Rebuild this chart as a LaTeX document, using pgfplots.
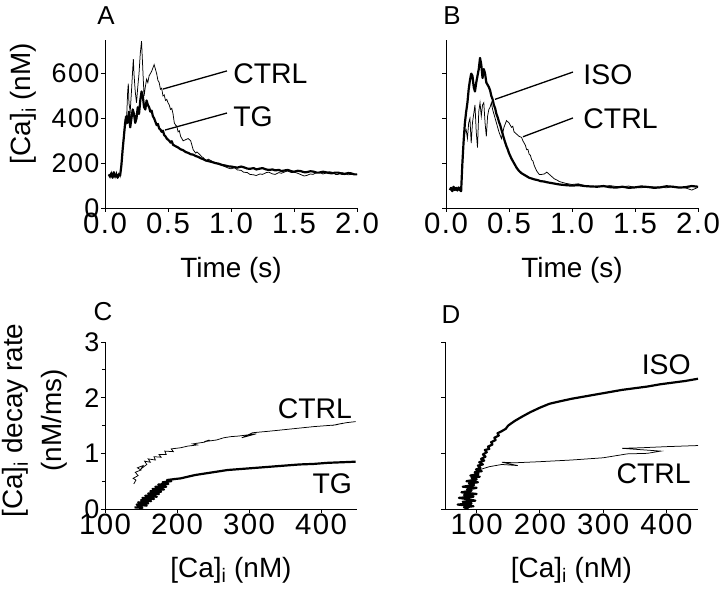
\documentclass[border=0pt]{standalone}
\usepackage{pgfplots}
\pgfplotsset{compat=1.18}
\usepackage{fontspec}
\setmainfont{Liberation Sans}
\newfontfamily\tickfont{Liberation Sans}[LetterSpace=5.0]

\newcommand{\xtkfont}{\tickfont\fontsize{29.5}{30}\selectfont}
\newcommand{\ytkfont}{\tickfont\fontsize{27}{30}\selectfont}
\pgfplotsset{
  panel/.style={
    scale only axis,
    axis x line*=bottom, axis y line*=left,
    tick align=outside,
    major tick length=4bp, minor tick length=3bp,
    axis line style={line width=0.8bp},
    every tick/.style={line width=0.8bp, black},
    /pgf/number format/assume math mode=true,
    xticklabel style={font=\xtkfont, inner sep=1bp},
    yticklabel style={font=\ytkfont, inner sep=1.5bp},
    label style={font=\fontsize{28}{39}\selectfont},
    clip=false,
  },
  thinline/.style={black, line width=0.75bp, mark=none},
  thickline/.style={black, line width=2.2bp, mark=none, line join=round},
}
\tikzset{annot/.style={font=\fontsize{28.5}{30}\selectfont}}

\begin{document}
\begin{tikzpicture}
\path[use as bounding box] (0,0) rectangle (720bp,590bp);

% ---------------- Panel A ----------------
\begin{axis}[panel,
  at={(105bp,382bp)}, anchor=south west,
  width=252bp, height=168bp,
  xmin=0, xmax=2, ymin=0, ymax=750,
  xtick={0,0.5,1,1.5,2}, xticklabels={0.0,0.5,1.0,1.5,2.0},
  ytick={0,200,400,600},
  xlabel={Time (s)}, ylabel={[Ca]\textsubscript{i} (nM)},
  xlabel style={at={(axis description cs:0.5,-0.369)}, anchor=center},
  ylabel style={at={(axis description cs:-0.325,0.622)}, anchor=center},
]
\addplot[thinline] coordinates {
(0.03,150)(0.04,135)(0.05,160)(0.06,140)(0.07,155)(0.08,135)(0.09,160)(0.10,140)(0.11,155)(0.12,140)
(0.13,200)(0.14,260)(0.15,330)(0.16,400)(0.17,380)(0.18,520)(0.185,555)(0.19,470)(0.20,430)(0.21,520)
(0.22,620)(0.225,665)(0.23,600)(0.24,520)(0.25,470)(0.26,540)(0.27,600)(0.28,690)(0.29,745)(0.30,620)
(0.31,500)(0.32,540)(0.33,575)(0.34,560)(0.35,590)(0.36,600)(0.37,610)(0.38,625)(0.39,640)(0.40,620)
(0.41,600)(0.42,570)(0.43,560)(0.44,530)(0.45,535)(0.46,500)(0.47,505)(0.48,480)(0.49,485)(0.50,470)
(0.51,460)(0.52,440)(0.53,445)(0.54,420)(0.55,380)(0.56,370)(0.57,365)(0.58,340)(0.59,345)(0.60,320)
(0.62,300)(0.64,305)(0.66,310)(0.67,305)(0.68,300)(0.70,260)(0.72,245)(0.73,250)(0.75,240)(0.77,228)
(0.78,225)(0.80,210)(0.82,218)(0.84,212)(0.86,205)(0.88,200)(0.90,195)(0.93,190)(0.95,185)(0.98,178)
(1.00,175)(1.03,180)(1.05,170)(1.08,168)(1.10,160)(1.13,158)(1.15,150)(1.18,148)(1.20,145)(1.23,152)
(1.25,150)(1.28,158)(1.30,160)(1.33,152)(1.35,150)(1.38,158)(1.40,155)(1.43,162)(1.45,165)(1.48,158)
(1.50,160)(1.53,155)(1.55,150)(1.58,143)(1.60,145)(1.63,152)(1.65,150)(1.68,158)(1.70,160)(1.73,152)
(1.75,155)(1.78,162)(1.80,160)(1.83,150)(1.85,150)(1.88,158)(1.90,155)(1.93,148)(1.95,150)(2.00,150)
};
\addplot[thickline] coordinates {
(0.03,150)(0.04,140)(0.05,155)(0.06,135)(0.07,160)(0.08,140)(0.09,150)(0.10,135)(0.11,150)(0.12,145)
(0.13,190)(0.14,260)(0.15,320)(0.16,380)(0.17,410)(0.18,380)(0.19,430)(0.20,360)(0.21,400)(0.22,440)
(0.23,420)(0.24,380)(0.25,400)(0.26,450)(0.27,420)(0.28,480)(0.29,520)(0.30,500)(0.31,450)(0.32,440)
(0.33,480)(0.34,460)(0.35,450)(0.36,430)(0.37,435)(0.38,410)(0.39,400)(0.40,385)(0.41,370)(0.42,375)
(0.43,355)(0.44,350)(0.45,340)(0.46,345)(0.47,325)(0.48,320)(0.49,310)(0.50,305)(0.51,300)(0.52,292)
(0.53,298)(0.54,282)(0.56,276)(0.58,270)(0.60,262)(0.62,258)(0.64,250)(0.66,246)(0.68,240)(0.70,238)
(0.72,232)(0.74,228)(0.76,222)(0.78,218)(0.80,212)(0.83,208)(0.85,205)(0.88,200)(0.90,198)(0.93,192)
(0.95,190)(0.98,186)(1.00,185)(1.03,182)(1.05,180)(1.08,185)(1.10,182)(1.13,176)(1.15,175)(1.18,178)
(1.20,172)(1.23,176)(1.25,178)(1.28,172)(1.30,170)(1.33,172)(1.35,168)(1.38,170)(1.40,165)(1.43,168)
(1.45,170)(1.48,164)(1.50,162)(1.53,166)(1.55,165)(1.58,160)(1.60,160)(1.63,164)(1.65,163)(1.68,158)
(1.70,158)(1.73,162)(1.75,160)(1.78,156)(1.80,155)(1.83,158)(1.85,158)(1.88,153)(1.90,152)(1.93,156)
(1.95,155)(1.98,150)(2.00,150)
};
\draw[line width=1.3bp] (axis cs:0.46,531) -- (axis cs:0.968,612);
\draw[line width=1.3bp] (axis cs:0.476,348) -- (axis cs:0.968,424);
\node[annot, anchor=west] at (axis cs:0.99,598) {CTRL};
\node[annot, anchor=west] at (axis cs:0.99,406) {TG};
\end{axis}

% ---------------- Panel B ----------------
\begin{axis}[panel,
  at={(446bp,382bp)}, anchor=south west,
  width=252bp, height=168bp,
  xmin=0, xmax=2, ymin=0, ymax=750,
  xtick={0,0.5,1,1.5,2}, xticklabels={0.0,0.5,1.0,1.5,2.0},
  ytick={0,200,400,600}, yticklabels={},
  xlabel={Time (s)},
  xlabel style={at={(axis description cs:0.5,-0.369)}, anchor=center},
]
\addplot[thickline] coordinates {
(0.03,80)(0.04,90)(0.05,75)(0.06,95)(0.07,80)(0.08,90)(0.09,78)(0.10,92)(0.11,80)(0.12,75)
(0.13,200)(0.14,300)(0.15,380)(0.16,430)(0.17,470)(0.18,530)(0.19,570)(0.20,600)(0.21,590)(0.22,540)
(0.23,520)(0.24,560)(0.25,590)(0.26,620)(0.27,670)(0.28,640)(0.29,580)(0.30,620)(0.31,600)(0.32,560)
(0.33,550)(0.34,540)(0.35,525)(0.36,500)(0.37,485)(0.38,460)(0.39,445)(0.40,420)(0.41,405)(0.42,385)
(0.43,370)(0.44,350)(0.45,330)(0.46,310)(0.47,292)(0.48,275)(0.49,262)(0.50,245)(0.52,220)(0.54,200)
(0.56,180)(0.58,165)(0.60,155)(0.63,145)(0.66,135)(0.70,128)(0.73,124)(0.75,120)(0.78,118)(0.80,115)
(0.85,110)(0.90,105)(0.95,102)(1.00,100)(1.05,102)(1.10,98)(1.15,96)(1.20,95)(1.25,98)(1.30,93)
(1.35,91)(1.40,95)(1.45,90)(1.50,92)(1.55,96)(1.60,94)(1.65,90)(1.70,92)(1.75,97)(1.80,95)(1.85,91)
(1.90,93)(1.95,98)(2.00,95)
};
\addplot[thinline] coordinates {
(0.03,85)(0.05,75)(0.07,90)(0.09,80)(0.11,85)(0.12,80)(0.13,180)(0.14,290)(0.15,340)(0.16,350)
(0.17,310)(0.18,380)(0.19,400)(0.20,290)(0.21,380)(0.22,420)(0.23,460)(0.24,340)(0.25,270)(0.26,430)
(0.27,470)(0.28,410)(0.29,460)(0.30,470)(0.31,380)(0.32,320)(0.33,410)(0.34,440)(0.35,450)(0.36,470)
(0.37,440)(0.38,420)(0.40,380)(0.42,340)(0.44,310)(0.46,360)(0.48,390)(0.50,380)(0.51,370)(0.52,360)
(0.53,365)(0.54,340)(0.56,330)(0.58,320)(0.60,315)(0.61,300)(0.62,290)(0.63,280)(0.64,260)(0.65,262)
(0.66,240)(0.67,235)(0.68,215)(0.69,210)(0.70,190)(0.72,165)(0.74,150)(0.76,150)(0.78,152)(0.80,160)
(0.82,150)(0.84,140)(0.86,130)(0.88,125)(0.90,118)(0.95,110)(1.00,105)(1.05,108)(1.10,100)(1.15,97)
(1.20,98)(1.25,95)(1.30,100)(1.35,96)(1.40,95)(1.45,98)(1.50,92)(1.55,90)(1.60,96)(1.65,94)(1.70,93)
(1.75,90)(1.80,97)(1.85,92)(1.90,90)(1.95,80)(2.00,92)
};
\draw[line width=1.3bp] (axis cs:0.389,485) -- (axis cs:1.008,607);
\draw[line width=1.3bp] (axis cs:0.611,318) -- (axis cs:1.008,402);
\node[annot, anchor=west] at (axis cs:1.063,594) {ISO};
\node[annot, anchor=west] at (axis cs:1.063,397) {CTRL};
\end{axis}

% ---------------- Panel C ----------------
\begin{axis}[panel,
  at={(105bp,81bp)}, anchor=south west,
  width=252bp, height=167bp,
  xmin=100, xmax=450, ymin=0, ymax=3,
  xtick={100,200,300,400},
  ytick={0,1,2,3}, minor ytick={0.5,1.5,2.5},
  xlabel={[Ca]\textsubscript{i} (nM)},
  ylabel={[Ca]\textsubscript{i} decay rate\\(nM/ms)},
  xlabel style={at={(axis description cs:0.5,-0.365)}, anchor=center},
  ylabel style={at={(axis description cs:-0.28,0.53)}, anchor=center, align=center},
]
\addplot[thinline] coordinates {
(140,0.45)(143,0.52)(139,0.55)(146,0.60)(142,0.66)(150,0.70)(145,0.74)(153,0.78)(150,0.72)(158,0.80)
(155,0.86)(163,0.84)(160,0.90)(170,0.88)(168,0.94)(178,0.93)(175,0.98)(185,0.98)(183,1.04)(195,1.03)
(192,1.08)(205,1.10)(215,1.13)(228,1.15)(222,1.17)(238,1.20)(245,1.24)(238,1.21)(255,1.24)(265,1.28)
(275,1.30)(285,1.31)(310,1.35)(290,1.28)(305,1.37)(330,1.40)(360,1.44)(390,1.48)(420,1.51)(430,1.54)
(415,1.50)(435,1.55)(448,1.57)
};
\addplot[thickline] coordinates {
(141,0.03)(152,0.02)(144,0.08)(158,0.06)(146,0.12)(160,0.10)(150,0.16)(164,0.14)(152,0.20)(168,0.18)
(156,0.24)(172,0.22)(160,0.28)(175,0.27)(163,0.32)(178,0.31)(166,0.36)(182,0.35)(170,0.40)(185,0.40)
(174,0.44)(188,0.45)(180,0.48)(192,0.50)(186,0.52)(198,0.54)(205,0.55)(215,0.58)(225,0.61)(240,0.64)
(255,0.67)(270,0.70)(290,0.72)(310,0.74)(330,0.76)(350,0.78)(370,0.80)(390,0.81)(410,0.83)(430,0.84)
(448,0.85)
};
\node[annot, anchor=east] at (axis cs:448,1.80) {CTRL};
\node[annot, anchor=east] at (axis cs:448,0.45) {TG};
\end{axis}

% ---------------- Panel D ----------------
\begin{axis}[panel,
  at={(445bp,81bp)}, anchor=south west,
  width=253bp, height=167bp,
  xmin=50, xmax=450, ymin=0, ymax=3,
  xtick={100,200,300,400},
  ytick={0,1,2,3}, yticklabels={},
  xlabel={[Ca]\textsubscript{i} (nM)},
  xlabel style={at={(axis description cs:0.5,-0.365)}, anchor=center},
]
\addplot[thickline] coordinates {
(87,0.00)(80,0.03)(95,0.05)(70,0.08)(92,0.10)(78,0.13)(98,0.15)(84,0.18)(72,0.20)(95,0.22)
(80,0.25)(100,0.27)(76,0.30)(92,0.33)(85,0.35)(100,0.38)(78,0.40)(96,0.43)(88,0.46)(102,0.48)
(84,0.50)(100,0.53)(92,0.56)(105,0.58)(90,0.60)(103,0.63)(97,0.66)(108,0.68)(99,0.71)(106,0.74)
(102,0.78)(110,0.80)(104,0.84)(112,0.87)(107,0.90)(114,0.94)(110,0.98)(116,1.02)(113,1.06)(120,1.08)
(118,1.12)(125,1.16)(123,1.20)(130,1.24)(128,1.28)(135,1.32)(133,1.36)(140,1.40)(146,1.44)(150,1.50)
(160,1.58)(172,1.66)(185,1.74)(200,1.82)(215,1.89)(230,1.93)(250,1.98)(270,2.02)(290,2.06)(310,2.10)
(330,2.14)(350,2.17)(370,2.20)(390,2.24)(410,2.27)(430,2.30)(450,2.34)
};
\addplot[thinline] coordinates {
(100,0.62)(103,0.70)(120,0.76)(140,0.80)(165,0.78)(140,0.84)(160,0.83)(200,0.85)(250,0.88)(300,0.92)
(338,0.99)(370,1.00)(391,1.04)(330,1.09)(360,1.10)(400,1.12)(450,1.14)
};
\node[annot, anchor=east] at (axis cs:444,2.59) {ISO};
\node[annot, anchor=east] at (axis cs:444,0.63) {CTRL};
\end{axis}

% panel letters
\node[font=\fontsize{26}{28}\selectfont] at (106bp,574bp) {A};
\node[font=\fontsize{26}{28}\selectfont] at (452bp,574bp) {B};
\node[font=\fontsize{26}{28}\selectfont] at (103bp,278bp) {C};
\node[font=\fontsize{26}{28}\selectfont] at (451bp,275bp) {D};
\end{tikzpicture}
\end{document}
